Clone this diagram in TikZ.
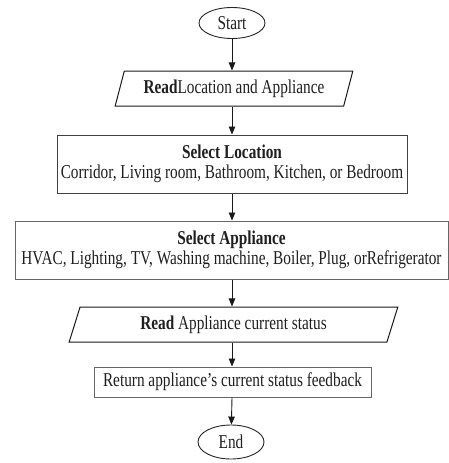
\documentclass[tikz,border=0pt]{standalone}
\usepackage{fontspec}
\setmainfont{Liberation Serif}[FakeStretch=0.78]
\usetikzlibrary{shapes.geometric,arrows.meta}
\begin{document}
\begin{tikzpicture}[x=1pt,y=-1pt,
  every node/.style={font=\fontsize{19.6}{19.5}\selectfont, text=black!88, inner sep=0pt, align=center},
  term/.style={draw=black!85, line width=0.9pt, ellipse, minimum width=66pt, minimum height=31pt},
  io/.style={draw=black!90, line width=1pt, trapezium, trapezium stretches=true, minimum height=35pt},
  proc/.style={draw=black!60, line width=1pt, rectangle},
  arr/.style={draw=black!90, line width=0.9pt, -{Triangle[length=8pt,width=6.5pt]}}
]
\useasboundingbox (0,0) rectangle (449,463);
\node[term] (start) at (232,23) {Start};
\node[io, minimum width=238pt, trapezium left angle=67, trapezium right angle=113] (read1) at (234,88.5) {\textbf{Read}Location and Appliance};
\node[proc, draw=black!75, minimum width=350pt, minimum height=58pt] (loc) at (232,164) {\textbf{Select Location}\\Corridor, Living room, Bathroom, Kitchen, or Bedroom};
\node[proc, minimum width=433pt, minimum height=58pt] (app) at (231.5,250) {\textbf{Select Appliance}\\HVAC, Lighting, TV, Washing machine, Boiler, Plug, orRefrigerator};
\node[io, minimum width=329pt, trapezium left angle=69.6, trapezium right angle=110.4] (read2) at (233.5,324.5) {\textbf{Read} Appliance current status};
\node[proc, minimum width=277pt, minimum height=30pt] (ret) at (232.5,382) {Return appliance’s current status feedback};
\node[term, minimum height=34pt] (end) at (231,442) {End};
\draw[arr] (start) -- (start |- read1.north);
\draw[arr] (start |- read1.south) -- (start |- loc.north);
\draw[arr] (start |- loc.south) -- (start |- app.north);
\draw[arr] (start |- app.south) -- (start |- read2.north);
\draw[arr] (start |- read2.south) -- (start |- ret.north);
\draw[arr] (start |- ret.south) -- (end);
\end{tikzpicture}
\end{document}
